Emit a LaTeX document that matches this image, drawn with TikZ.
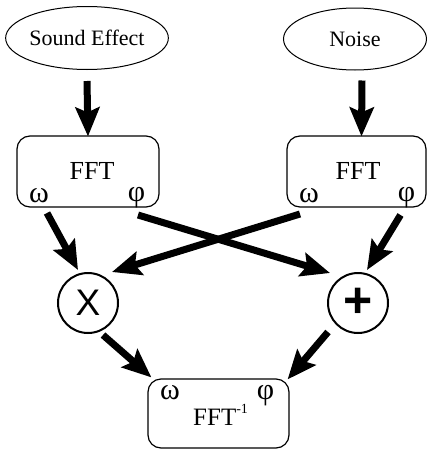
\documentclass[tikz,border=0pt]{standalone}
\usepackage{fontspec}
\setmainfont{Liberation Serif}
\newfontfamily\sansf{Liberation Sans}
\usetikzlibrary{shapes.geometric,arrows.meta}
\begin{document}
\begin{tikzpicture}[x=1pt,y=-1pt,
  ell/.style={draw, ellipse, line width=1pt, inner sep=0pt, font=\fontsize{22}{24}\selectfont},
  box/.style={draw, rectangle, rounded corners=13pt, line width=1.2pt, inner sep=0pt, font=\fontsize{26}{28}\selectfont},
  lab/.style={inner sep=0pt, font=\fontsize{30}{32}\selectfont},
  op/.style={draw, circle, line width=2pt, minimum size=60pt, inner sep=0pt},
  arr/.style={line width=7pt, -{Stealth[length=29pt, width=24pt, inset=5pt]}}
]
\useasboundingbox (0,0) rectangle (427,450);
% sources
\node[ell, minimum width=145pt, minimum height=63pt] (se) at (87,38) {Sound Effect};
\node[ell, minimum width=143pt, minimum height=62pt] (noise) at (355,39) {Noise};
% FFT boxes
\node[box, minimum width=142pt, minimum height=71pt] (fft1) at (88,171.5) {};
\node[box, minimum width=139pt, minimum height=71pt] (fft2) at (356.5,171.5) {};
\node[inner sep=0pt, font=\fontsize{26}{28}\selectfont] (t1) at (92,170.5) {FFT};
\node[inner sep=0pt, font=\fontsize{26}{28}\selectfont] (t2) at (358,170.5) {FFT};
\node[lab] (w1) at (39,196) {ω};
\node[lab] (p1) at (136.5,198) {φ};
\node[lab] (w2) at (309,196) {ω};
\node[lab] (p2) at (406.5,198) {φ};
% operators
\node[op, font=\sansf\fontsize{37}{37}\selectfont] (x) at (88,303) {X};
\node[op, font=\sansf\bfseries\fontsize{50}{50}\selectfont] (plus) at (358,303) {+};
% inverse
\node[box, minimum width=141pt, minimum height=69pt] (inv) at (218.5,413.5) {};
\node[inner sep=0pt, font=\fontsize{25}{27}\selectfont, anchor=base west] (t3) at (193,425) {FFT\raisebox{12pt}{\fontsize{14}{14}\selectfont -1}};
\node[lab] (w3) at (170,392.5) {ω};
\node[lab] (p3) at (265.5,396) {φ};
% arrows
\draw[arr] ([shift={(0,11)}]se.south) -- ([shift={(0,1)}]fft1.north);
\draw[arr] ([shift={(7,10)}]noise.south) -- ([shift={(5,1)}]fft2.north);
\draw[arr] ([shift={(8,17)}]w1.center) -- ([shift={(-10,-33)}]x.center);
\draw[arr] ([shift={(1.5,17)}]p1.center) -- ([shift={(-28,-30)}]plus.center);
\draw[arr] ([shift={(-9,18)}]w2.center) -- ([shift={(24,-31)}]x.center);
\draw[arr] ([shift={(-6,17)}]p2.center) -- ([shift={(9,-33)}]plus.center);
\draw[arr] ([shift={(15,32)}]x.center) -- ([shift={(4,-1)}]inv.north west);
\draw[arr] ([shift={(-30,29)}]plus.center) -- ([shift={(-2,1)}]inv.north east);
\end{tikzpicture}
\end{document}
